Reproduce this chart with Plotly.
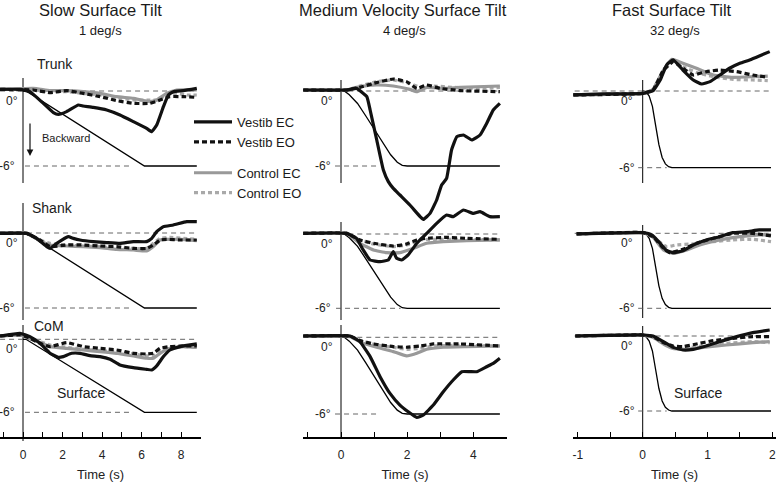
import plotly.graph_objects as go

W, H = 777, 484
FONT = "Liberation Sans, Arial, Helvetica, sans-serif"

# ---------------- text ----------------
COLUMN_TITLES = ["Slow Surface Tilt", "Medium Velocity Surface Tilt", "Fast Surface Tilt"]
COLUMN_RATES = ["1 deg/s", "4 deg/s", "32 deg/s"]
ROW_NAMES = ["Trunk", "Shank", "CoM"]
SERIES_NAMES = ["Vestib EC", "Vestib EO", "Control EC", "Control EO"]

# tick labels (seconds)
SLOW_TICKS = [0, 2, 4, 6, 8]
MEDIUM_TICKS = [0, 2, 4]
FAST_TICKS = [-1, 0, 1, 2]
REF_LEVELS = [0, -6]          # reference angle lines (deg)

# ---------------- surface profiles (deg) ----------------
SLOW_SURF_T = [0, 0.15, 6.15, 8.8]
SLOW_SURF = [0, 0, -6, -6]
MED_SURF_T = [0, 0.1, 0.25, 0.5, 0.75, 1.0, 1.25, 1.5, 1.7, 1.85, 2.0, 4.8]
MED_SURF = [0, 0, -0.3, -1.0, -2.0, -3.0, -4.1, -5.1, -5.7, -5.95, -6, -6]
FAST_SURF_T = [0, 0.05, 0.1, 0.15, 0.2, 0.25, 0.3, 0.35, 0.4, 0.45, 1.98]
FAST_SURF = [0, -0.05, -0.4, -1.2, -2.7, -4.2, -5.2, -5.7, -5.92, -6, -6]

# ---------------- slow tilt ----------------
SLOW_TRUNK_VEC_T = [-1.16, -0.15, 0.35, 1.03, 1.54, 1.79, 2.21, 2.8, 3.05, 3.56, 4.24, 4.91, 5.59, 6.26, 6.52, 6.77, 7.11, 7.36, 7.61, 8.12, 8.8]
SLOW_TRUNK_VEC = [0.13, 0.13, -0.05, -0.99, -1.73, -1.87, -1.65, -1.12, -1.2, -1.31, -1.52, -1.92, -2.45, -2.99, -3.25, -2.72, -1.25, -0.32, -0.05, 0.03, 0.21]
SLOW_TRUNK_VEO_T = [-1.16, 0.52, 1.37, 2.21, 3.05, 3.9, 4.74, 5.59, 6.43, 6.94, 7.44, 8.12, 8.8]
SLOW_TRUNK_VEO = [0.13, 0.08, -0.13, 0.03, -0.19, -0.45, -0.77, -0.99, -0.99, -0.72, -0.45, -0.45, -0.51]
SLOW_TRUNK_CEC_T = [-1.16, 0.52, 1.37, 2.21, 3.05, 3.9, 4.74, 5.59, 6.43, 6.77, 7.27, 7.78, 8.8]
SLOW_TRUNK_CEC = [0.13, 0.21, 0.03, 0.03, -0.05, -0.19, -0.45, -0.59, -0.85, -0.72, -0.19, 0.08, 0.08]
SLOW_TRUNK_CEO_T = [-1.16, 0.52, 1.37, 2.21, 3.05, 3.9, 4.74, 5.59, 6.26, 6.77, 7.27, 7.78, 8.29, 8.8]
SLOW_TRUNK_CEO = [0.13, 0.13, -0.05, -0.05, -0.19, -0.32, -0.52, -0.72, -0.72, -0.72, -0.32, -0.19, -0.32, -0.32]

SLOW_SHANK_VEC_T = [-1.16, 0.19, 0.69, 1.2, 1.37, 1.71, 2.29, 2.55, 2.89, 3.56, 4.24, 4.91, 5.59, 6.26, 6.52, 6.77, 7.11, 7.61, 8.29, 8.8]
SLOW_SHANK_VEC = [-0.03, -0.03, -0.43, -1.09, -1.23, -0.83, -0.29, -0.43, -0.56, -0.69, -0.77, -0.83, -0.69, -0.69, -0.43, 0.11, 0.51, 0.64, 0.91, 0.91]
SLOW_SHANK_VEO_T = [-1.16, 0.19, 0.86, 1.37, 2.21, 3.05, 3.9, 4.74, 5.59, 6.26, 6.6, 6.94, 7.27, 7.95, 8.8]
SLOW_SHANK_VEO = [-0.03, -0.03, -0.56, -1.09, -0.96, -0.96, -1.04, -1.09, -1.23, -1.23, -0.96, -0.56, -0.51, -0.56, -0.56]
SLOW_SHANK_CEC_T = [-1.16, 0.19, 0.86, 1.37, 2.21, 3.05, 3.9, 4.74, 5.59, 6.26, 6.6, 6.94, 7.27, 7.95, 8.8]
SLOW_SHANK_CEC = [0.03, -0.03, -0.61, -0.96, -1.04, -1.09, -1.17, -1.31, -1.36, -1.44, -1.09, -0.56, -0.51, -0.51, -0.61]
SLOW_SHANK_CEO_T = [-1.16, 0.19, 0.86, 1.37, 2.21, 3.05, 3.9, 4.74, 5.59, 6.26, 6.6, 6.94, 7.44, 8.12, 8.8]
SLOW_SHANK_CEO = [0.03, -0.03, -0.56, -0.83, -0.96, -1.04, -1.09, -1.23, -1.23, -1.23, -0.83, -0.43, -0.35, -0.43, -0.51]

SLOW_COM_VEC_T = [-1.16, -0.15, 0.35, 0.86, 1.37, 1.79, 2.04, 2.46, 2.89, 3.39, 3.9, 4.41, 4.91, 5.59, 6.26, 6.52, 6.77, 7.11, 7.44, 7.95, 8.8]
SLOW_COM_VEC = [0.27, 0.49, 0.22, -0.33, -1.15, -1.48, -1.42, -1.15, -1.15, -1.34, -1.42, -1.64, -2.11, -2.33, -2.47, -2.52, -2.19, -1.42, -0.88, -0.6, -0.38]
SLOW_COM_VEO_T = [-1.16, -0.15, 0.35, 0.86, 1.37, 2.21, 3.05, 3.9, 4.74, 5.59, 6.26, 6.6, 6.94, 7.44, 8.12, 8.8]
SLOW_COM_VEO = [0.27, 0.36, 0.08, -0.33, -0.6, -0.27, -0.6, -0.74, -0.88, -1.15, -1.21, -1.15, -0.74, -0.6, -0.55, -0.55]
SLOW_COM_CEC_T = [-1.16, -0.15, 0.52, 1.37, 2.21, 3.05, 3.9, 4.74, 5.59, 6.26, 6.6, 6.94, 7.44, 8.12, 8.8]
SLOW_COM_CEC = [0.27, 0.36, -0.05, -0.6, -0.74, -0.88, -1.01, -1.15, -1.37, -1.56, -1.56, -1.15, -0.74, -0.6, -0.66]
SLOW_COM_CEO_T = [-1.16, -0.15, 0.52, 1.37, 2.21, 3.05, 3.9, 4.74, 5.59, 6.26, 6.6, 6.94, 7.44, 8.12, 8.8]
SLOW_COM_CEO = [0.27, 0.36, 0.0, -0.47, -0.66, -0.82, -0.93, -1.01, -1.21, -1.37, -1.37, -1.01, -0.66, -0.6, -0.66]

# ---------------- medium velocity tilt ----------------
MED_TRUNK_VEC_T = [-1.14, 0.17, 0.47, 0.78, 0.88, 1.08, 1.28, 1.43, 1.58, 1.78, 2.08, 2.39, 2.49, 2.69, 2.89, 3.04, 3.19, 3.34, 3.5, 3.7, 3.95, 4.2, 4.4, 4.6, 4.8]
MED_TRUNK_VEC = [0.08, 0.08, 0.21, -0.45, -1.52, -3.92, -6.32, -7.25, -7.79, -8.32, -9.12, -10.05, -10.27, -9.79, -8.72, -7.52, -6.99, -4.72, -3.65, -3.52, -3.92, -3.52, -2.59, -1.52, -0.99]
MED_TRUNK_VEO_T = [-1.14, 0.17, 0.57, 0.98, 1.58, 1.98, 2.29, 2.59, 2.99, 3.6, 4.8]
MED_TRUNK_VEO = [0.08, 0.08, 0.29, 0.61, 0.96, 0.75, 0.21, 0.48, 0.21, 0.03, -0.05]
MED_TRUNK_CEC_T = [-1.14, 0.17, 0.57, 1.08, 1.58, 2.08, 2.29, 2.59, 3.09, 3.6, 4.8]
MED_TRUNK_CEC = [0.08, 0.08, 0.35, 0.48, 0.4, 0.13, -0.05, 0.29, 0.21, 0.29, 0.4]
MED_TRUNK_CEO_T = [-1.14, 0.17, 0.57, 1.08, 1.58, 2.08, 2.39, 2.79, 3.39, 4.1, 4.8]
MED_TRUNK_CEO = [0.08, 0.08, 0.4, 0.75, 0.88, 0.61, 0.29, 0.4, 0.29, 0.21, 0.29]

MED_SHANK_VEC_T = [-1.14, 0.17, 0.47, 0.67, 0.88, 1.18, 1.43, 1.58, 1.68, 1.83, 2.03, 2.29, 2.59, 2.89, 3.19, 3.39, 3.7, 4.0, 4.2, 4.5, 4.8]
MED_SHANK_VEC = [0.05, 0.05, -0.35, -1.29, -2.1, -2.23, -2.1, -1.42, -1.96, -2.1, -1.69, -0.75, 0.05, 0.86, 1.53, 1.4, 1.94, 1.67, 1.8, 1.4, 1.4]
MED_SHANK_VEO_T = [-1.14, 0.17, 0.57, 0.98, 1.58, 1.98, 2.29, 2.59, 3.19, 3.8, 4.8]
MED_SHANK_VEO = [0.05, 0.05, -0.48, -0.75, -0.97, -0.81, -0.48, -0.35, -0.27, -0.35, -0.43]
MED_SHANK_CEC_T = [-1.14, 0.17, 0.57, 0.98, 1.38, 1.78, 2.18, 2.59, 3.09, 3.8, 4.8]
MED_SHANK_CEC = [0.05, 0.05, -0.75, -1.29, -1.51, -1.51, -1.16, -0.75, -0.62, -0.54, -0.48]
MED_SHANK_CEO_T = [-1.14, 0.17, 0.57, 0.98, 1.58, 1.98, 2.39, 2.79, 3.6, 4.8]
MED_SHANK_CEO = [0.05, 0.05, -0.48, -0.81, -1.02, -0.89, -0.48, -0.43, -0.43, -0.48]

MED_COM_VEC_T = [-1.14, 0.27, 0.57, 0.88, 1.18, 1.48, 1.78, 2.03, 2.29, 2.49, 2.79, 3.09, 3.39, 3.65, 3.9, 4.1, 4.4, 4.6, 4.8]
MED_COM_VEC = [0.1, 0.1, -0.34, -1.51, -3.08, -4.39, -5.3, -5.82, -6.27, -6.08, -5.3, -4.26, -3.34, -2.69, -2.69, -2.69, -2.3, -2.04, -1.64]
MED_COM_VEO_T = [-1.14, 0.27, 0.57, 0.98, 1.58, 1.98, 2.39, 2.79, 3.6, 4.8]
MED_COM_VEO = [0.1, 0.1, -0.26, -0.52, -0.73, -0.78, -0.68, -0.52, -0.52, -0.68]
MED_COM_CEC_T = [-1.14, 0.27, 0.67, 1.08, 1.58, 1.98, 2.29, 2.59, 3.09, 3.8, 4.8]
MED_COM_CEC = [0.1, 0.05, -0.47, -0.78, -1.12, -1.46, -1.25, -0.94, -0.78, -0.73, -0.68]
MED_COM_CEO_T = [-1.14, 0.27, 0.67, 1.08, 1.58, 1.98, 2.39, 2.79, 3.6, 4.8]
MED_COM_CEO = [0.1, 0.05, -0.34, -0.6, -0.78, -0.94, -0.86, -0.68, -0.63, -0.68]

# ---------------- fast tilt ----------------
FAST_TRUNK_VEC_T = [-1.07, -0.61, 0.01, 0.16, 0.27, 0.37, 0.47, 0.62, 0.78, 0.91, 1.04, 1.19, 1.34, 1.5, 1.65, 1.8, 1.96]
FAST_TRUNK_VEC = [-0.31, -0.23, -0.18, 0.03, 0.86, 2.04, 2.43, 1.64, 0.86, 0.55, 0.73, 1.25, 1.78, 2.17, 2.43, 2.74, 3.08]
FAST_TRUNK_VEO_T = [-1.07, 0.01, 0.16, 0.32, 0.47, 0.62, 0.78, 0.98, 1.19, 1.45, 1.7, 1.93]
FAST_TRUNK_VEO = [-0.31, -0.18, 0.08, 1.64, 2.3, 1.78, 1.25, 1.51, 1.64, 1.51, 1.25, 1.07]
FAST_TRUNK_CEC_T = [-1.07, 0.01, 0.16, 0.32, 0.45, 0.62, 0.83, 1.09, 1.39, 1.7, 1.93]
FAST_TRUNK_CEC = [-0.31, -0.18, 0.13, 1.64, 2.48, 2.17, 1.78, 1.25, 1.07, 1.12, 1.17]
FAST_TRUNK_CEO_T = [-1.07, 0.01, 0.16, 0.32, 0.47, 0.62, 0.83, 1.09, 1.39, 1.7, 1.93]
FAST_TRUNK_CEO = [-0.31, -0.18, 0.13, 1.59, 2.3, 1.91, 1.44, 1.12, 0.91, 0.86, 0.81]

FAST_SHANK_VEC_T = [-1.02, 0.01, 0.14, 0.27, 0.37, 0.47, 0.62, 0.78, 0.98, 1.19, 1.39, 1.6, 1.8, 1.98]
FAST_SHANK_VEC = [-0.05, 0.05, -0.13, -0.8, -1.39, -1.55, -1.39, -0.93, -0.53, -0.27, 0.05, 0.13, 0.27, 0.27]
FAST_SHANK_VEO_T = [-1.02, 0.01, 0.16, 0.32, 0.42, 0.62, 0.83, 1.09, 1.39, 1.7, 1.98]
FAST_SHANK_VEO = [-0.05, 0.05, -0.27, -1.2, -1.55, -1.28, -0.8, -0.4, 0.0, 0.0, -0.21]
FAST_SHANK_CEC_T = [-1.02, 0.01, 0.16, 0.32, 0.47, 0.68, 0.88, 1.19, 1.5, 1.8, 1.98]
FAST_SHANK_CEC = [-0.05, 0.05, -0.32, -1.33, -1.6, -1.33, -0.93, -0.53, -0.27, -0.13, -0.13]
FAST_SHANK_CEO_T = [-1.02, 0.01, 0.16, 0.37, 0.52, 0.78, 1.09, 1.39, 1.7, 1.98]
FAST_SHANK_CEO = [-0.05, 0.05, -0.32, -1.07, -0.93, -0.85, -0.67, -0.53, -0.48, -0.67]

FAST_COM_VEC_T = [-1.04, 0.01, 0.16, 0.32, 0.47, 0.62, 0.78, 0.98, 1.19, 1.45, 1.7, 1.96]
FAST_COM_VEC = [0.0, 0.08, 0.0, -0.45, -0.91, -1.12, -1.07, -0.8, -0.45, -0.05, 0.27, 0.48]
FAST_COM_VEO_T = [-1.04, 0.01, 0.16, 0.32, 0.47, 0.62, 0.83, 1.09, 1.39, 1.7, 1.96]
FAST_COM_VEO = [0.0, 0.08, -0.05, -0.53, -0.8, -0.85, -0.64, -0.37, -0.19, -0.05, -0.05]
FAST_COM_CEC_T = [-1.04, 0.01, 0.16, 0.32, 0.47, 0.68, 0.93, 1.29, 1.7, 1.96]
FAST_COM_CEC = [0.0, 0.08, -0.11, -0.64, -0.99, -1.07, -0.91, -0.72, -0.53, -0.45]
FAST_COM_CEO_T = [-1.04, 0.01, 0.16, 0.32, 0.47, 0.68, 0.93, 1.29, 1.7, 1.96]
FAST_COM_CEO = [0.0, 0.08, -0.11, -0.59, -0.85, -0.91, -0.8, -0.59, -0.45, -0.53]

# ---------------- assemble ----------------
PANELS = {
    (0, 0): [(SLOW_TRUNK_VEC_T, SLOW_TRUNK_VEC), (SLOW_TRUNK_VEO_T, SLOW_TRUNK_VEO), (SLOW_TRUNK_CEC_T, SLOW_TRUNK_CEC), (SLOW_TRUNK_CEO_T, SLOW_TRUNK_CEO)],
    (1, 0): [(SLOW_SHANK_VEC_T, SLOW_SHANK_VEC), (SLOW_SHANK_VEO_T, SLOW_SHANK_VEO), (SLOW_SHANK_CEC_T, SLOW_SHANK_CEC), (SLOW_SHANK_CEO_T, SLOW_SHANK_CEO)],
    (2, 0): [(SLOW_COM_VEC_T, SLOW_COM_VEC), (SLOW_COM_VEO_T, SLOW_COM_VEO), (SLOW_COM_CEC_T, SLOW_COM_CEC), (SLOW_COM_CEO_T, SLOW_COM_CEO)],
    (0, 1): [(MED_TRUNK_VEC_T, MED_TRUNK_VEC), (MED_TRUNK_VEO_T, MED_TRUNK_VEO), (MED_TRUNK_CEC_T, MED_TRUNK_CEC), (MED_TRUNK_CEO_T, MED_TRUNK_CEO)],
    (1, 1): [(MED_SHANK_VEC_T, MED_SHANK_VEC), (MED_SHANK_VEO_T, MED_SHANK_VEO), (MED_SHANK_CEC_T, MED_SHANK_CEC), (MED_SHANK_CEO_T, MED_SHANK_CEO)],
    (2, 1): [(MED_COM_VEC_T, MED_COM_VEC), (MED_COM_VEO_T, MED_COM_VEO), (MED_COM_CEC_T, MED_COM_CEC), (MED_COM_CEO_T, MED_COM_CEO)],
    (0, 2): [(FAST_TRUNK_VEC_T, FAST_TRUNK_VEC), (FAST_TRUNK_VEO_T, FAST_TRUNK_VEO), (FAST_TRUNK_CEC_T, FAST_TRUNK_CEC), (FAST_TRUNK_CEO_T, FAST_TRUNK_CEO)],
    (1, 2): [(FAST_SHANK_VEC_T, FAST_SHANK_VEC), (FAST_SHANK_VEO_T, FAST_SHANK_VEO), (FAST_SHANK_CEC_T, FAST_SHANK_CEC), (FAST_SHANK_CEO_T, FAST_SHANK_CEO)],
    (2, 2): [(FAST_COM_VEC_T, FAST_COM_VEC), (FAST_COM_VEO_T, FAST_COM_VEO), (FAST_COM_CEC_T, FAST_COM_CEC), (FAST_COM_CEO_T, FAST_COM_CEO)],
}
SURFACES = [(SLOW_SURF_T, SLOW_SURF), (MED_SURF_T, MED_SURF), (FAST_SURF_T, FAST_SURF)]
TICKS = [SLOW_TICKS, MEDIUM_TICKS, FAST_TICKS]

# ---------------- geometry (pixels) ----------------
COL_ZERO_PX = [23, 341, 642.7]          # x pixel of t = 0
COL_PX_PER_S = [19.75, 33.1, 64.8]
COL_DOMAIN_PX = [(0, 201), (303, 507), (573, 776)]
MINOR_DT = [1, 1, 0.5]
# y pixel of 0 deg and -6 deg per panel (row, col)
PANEL_Y = {(0, 0): (91, 166), (1, 0): (233, 308), (2, 0): (339.3, 412.3),
           (0, 1): (91, 166), (1, 1): (234, 308.3), (2, 1): (337.3, 414),
           (0, 2): (91, 167.7), (1, 2): (233.3, 308.3), (2, 2): (336, 411)}
# vertical t=0 axis extent (pixels) per panel
VAXIS_PX = {(0, 0): (78, 183), (0, 1): (80, 183), (0, 2): (80, 183),
            (1, 0): (203, 320), (1, 1): (222, 320), (1, 2): (225, 318),
            (2, 0): (325, 441), (2, 1): (325, 438), (2, 2): (326, 438)}
ZERO_LINE_T = [(-1.16, 8.8), (-1.14, 4.8), (-1.05, 2.0)]
SIX_LINE_T = {0: [(0.1, 5.4)] * 3, 1: [(-0.18, 1.13), (-0.15, 1.8), (-0.18, 1.13)], 2: [(-0.07, 0.37)] * 3}
ZERO_LABEL_SHIFT = [-3, -6, -8]
SIX_LABEL_SHIFT = [-6, -8, -6]
AXIS_Y_PX = 438

STYLES = [
    dict(color="#111111", width=3.2, dash="solid"),
    dict(color="#111111", width=3.2, dash="5px,3px"),
    dict(color="#999999", width=3.2, dash="solid"),
    dict(color="#a9a9a9", width=3.2, dash="4px,3px"),
]
GROUPS = ["vestib", "vestib", "control", "control"]

fig = go.Figure()
shapes, annotations = [], []


def xname(c):
    return "x" if c == 0 else f"x{c + 1}"


def yname(k):
    return "y" if k == 1 else f"y{k}"


layout_axes = {}
for c in range(3):
    zero, pps = COL_ZERO_PX[c], COL_PX_PER_S[c]
    d0, d1 = COL_DOMAIN_PX[c]
    xr = [(d0 - zero) / pps, (d1 - zero) / pps]
    ticks = TICKS[c]
    layout_axes["xaxis" if c == 0 else f"xaxis{c + 1}"] = dict(
        domain=[d0 / W, d1 / W], range=xr, anchor="free", position=1 - AXIS_Y_PX / H,
        showline=True, linecolor="black", linewidth=1.6, mirror=False,
        ticks="inside", ticklen=5, tickwidth=1.3, tickcolor="black",
        tickmode="array", tickvals=ticks, ticktext=[str(v) for v in ticks],
        minor=dict(tickmode="linear", tick0=0, dtick=MINOR_DT[c], ticks="inside",
                   ticklen=5, tickwidth=1.3, tickcolor="black", showgrid=False),
        showgrid=False, zeroline=False,
        tickfont=dict(size=12, color="#222", family=FONT), ticklabelstandoff=6,
        title=dict(text="Time (s)", font=dict(size=13, color="#222", family=FONT), standoff=8),
    )
    for r in range(3):
        k = r * 3 + c + 1
        y0, y6 = PANEL_Y[(r, c)]
        s = (y6 - y0) / 6.0
        layout_axes["yaxis" if k == 1 else f"yaxis{k}"] = dict(
            domain=[0, 1], range=[-(H - y0) / s, y0 / s], visible=False,
            anchor=xname(c), showgrid=False, zeroline=False)

        xa, ya = xname(c), yname(k)
        # t = 0 vertical axis
        vt, vb = VAXIS_PX[(r, c)]
        shapes.append(dict(type="line", xref=xa, yref=ya, x0=0, x1=0,
                           y0=(y0 - vt) / s, y1=(y0 - vb) / s,
                           line=dict(color="black", width=1), layer="below"))
        # reference dashed lines
        zx0, zx1 = ZERO_LINE_T[c]
        shapes.append(dict(type="line", xref=xa, yref=ya, x0=zx0, x1=zx1,
                           y0=REF_LEVELS[0], y1=REF_LEVELS[0],
                           line=dict(color="#555", width=0.9, dash="5px,4px"), layer="below"))
        sx0, sx1 = SIX_LINE_T[c][r]
        shapes.append(dict(type="line", xref=xa, yref=ya, x0=sx0, x1=sx1,
                           y0=REF_LEVELS[1], y1=REF_LEVELS[1],
                           line=dict(color="#555", width=0.9, dash="5px,4px"), layer="below"))
        annotations.append(dict(xref=xa, yref=ya, x=0, y=REF_LEVELS[0], text="0°",
                                showarrow=False, xanchor="right", yanchor="middle",
                                xshift=ZERO_LABEL_SHIFT[c], yshift=-10,
                                font=dict(size=12, color="#222", family=FONT)))
        annotations.append(dict(xref=xa, yref=ya, x=0, y=REF_LEVELS[1], text="-6°",
                                showarrow=False, xanchor="right", yanchor="middle",
                                xshift=SIX_LABEL_SHIFT[c], yshift=0,
                                font=dict(size=12, color="#222", family=FONT)))

        # surface
        st, sv = SURFACES[c]
        fig.add_trace(go.Scatter(x=st, y=sv, xaxis=xa, yaxis=ya, mode="lines",
                                 line=dict(color="black", width=1.3),
                                 showlegend=False, hoverinfo="skip"))
        # series: control drawn first, vestibular on top
        for i in [3, 2, 1, 0]:
            t, v = PANELS[(r, c)][i]
            st_ = STYLES[i]
            fig.add_trace(go.Scatter(
                x=t, y=v, xaxis=xa, yaxis=ya, mode="lines", name=SERIES_NAMES[i],
                line=dict(color=st_["color"], width=st_["width"], dash=st_["dash"],
                          shape="spline", smoothing=0.35),
                legendgroup=GROUPS[i], legendrank=i + 1,
                showlegend=(r == 0 and c == 0)))


def px(x, y):
    return x / W, 1 - y / H


def add_text(text, x, y, size, xanchor="center"):
    xx, yy = px(x, y)
    annotations.append(dict(xref="paper", yref="paper", x=xx, y=yy, text=text,
                            showarrow=False, xanchor=xanchor, yanchor="middle",
                            font=dict(size=size, color="#1a1a1a", family=FONT)))


TITLE_X = [100.8, 403.5, 672]
RATE_X = [100, 404, 675]
for c in range(3):
    add_text(COLUMN_TITLES[c], TITLE_X[c], 10, 16.5)
    add_text(COLUMN_RATES[c], RATE_X[c], 30, 13)

ROW_LABEL_POS = [(35, 64), (30, 208), (32, 326)]
for r in range(3):
    add_text(ROW_NAMES[r], ROW_LABEL_POS[r][0], ROW_LABEL_POS[r][1], 14, "left")

add_text("Surface", 55, 393, 14, "left")
add_text("Surface", 672, 393, 14, "left")
add_text("Backward", 40, 138, 11, "left")
hx, hy = px(30, 156)
annotations.append(dict(xref="paper", yref="paper", x=hx, y=hy, ax=0, ay=-34,
                        text="", showarrow=True, arrowhead=2, arrowsize=1.1,
                        arrowwidth=1.2, arrowcolor="#111"))

fig.update_layout(
    width=W, height=H, margin=dict(l=0, r=0, t=0, b=0),
    paper_bgcolor="white", plot_bgcolor="rgba(0,0,0,0)",
    font=dict(family=FONT, color="#222"),
    shapes=shapes, annotations=annotations,
    showlegend=True,
    legend=dict(x=189 / W, y=1 - 107 / H, xanchor="left", yanchor="top",
                bgcolor="rgba(0,0,0,0)", font=dict(size=13, color="#1a1a1a", family=FONT),
                traceorder="grouped", tracegroupgap=11, itemwidth=38),
)
fig.update_layout(**layout_axes)

# page body has no default margin so the figure sits at the window origin
fig.write_html("out.html", config={"displayModeBar": False},
               post_script="document.body.style.margin='0';")
